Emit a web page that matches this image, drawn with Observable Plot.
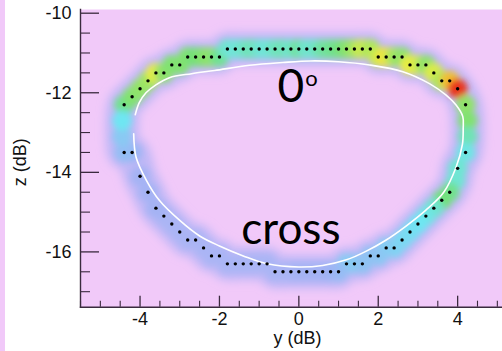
<!DOCTYPE html>
<html><head><meta charset="utf-8">
<script src="https://cdn.jsdelivr.net/npm/d3@7"></script>
<script src="https://cdn.jsdelivr.net/npm/@observablehq/plot@0.6"></script>
<style>
html,body{margin:0;padding:0;background:#fff;}
body{width:502px;height:351px;overflow:hidden;position:relative;}
#strip{position:absolute;left:0;top:0;width:5px;height:351px;background:#f1c9f9;}
#chart{position:absolute;left:0;top:0;}
</style></head><body><div id="strip"></div><div id="chart"></div>
<script>
// measured black dots [y (dB), z (dB)] around the loop
const ringDots = [
[-4.4,-12.3],[-4.2,-12.1],[-4.0,-11.9],[-3.8,-11.7],[-3.6,-11.5],[-3.4,-11.5],[-3.2,-11.3],[-3.0,-11.3],
[-2.8,-11.1],[-2.6,-11.1],[-2.4,-11.1],[-2.2,-11.1],[-2.0,-11.1],
[-1.8,-10.9],[-1.6,-10.9],[-1.4,-10.9],[-1.2,-10.9],[-1.0,-10.9],[-0.8,-10.9],[-0.6,-10.9],[-0.4,-10.9],[-0.2,-10.9],[0,-10.9],[0.2,-10.9],[0.4,-10.9],[0.6,-10.9],[0.8,-10.9],[1.0,-10.9],[1.2,-10.9],[1.4,-10.9],[1.6,-10.9],[1.8,-10.9],
[2.0,-11.1],[2.2,-11.1],[2.4,-11.1],[2.6,-11.1],
[2.8,-11.3],[3.0,-11.3],[3.2,-11.3],
[3.4,-11.5],[3.6,-11.7],[3.8,-11.7],[4.0,-11.9],[4.2,-12.3],
[4.2,-13.5],[4.0,-13.9],[3.8,-14.5],[3.6,-14.7],[3.4,-14.9],[3.2,-15.1],[3.0,-15.3],[2.8,-15.5],[2.6,-15.7],[2.4,-15.9],[2.2,-15.9],[2.0,-16.1],[1.8,-16.1],[1.6,-16.3],[1.4,-16.3],[1.2,-16.3],
[1.0,-16.5],[0.8,-16.5],[0.6,-16.5],[0.4,-16.5],[0.2,-16.5],[0,-16.5],[-0.2,-16.5],[-0.4,-16.5],[-0.6,-16.5],
[-0.8,-16.3],[-1.0,-16.3],[-1.2,-16.3],[-1.4,-16.3],[-1.6,-16.3],[-1.8,-16.3],
[-2.0,-16.1],[-2.2,-16.1],[-2.4,-15.9],[-2.6,-15.7],[-2.8,-15.7],[-3.0,-15.5],[-3.2,-15.3],[-3.4,-15.1],[-3.6,-14.9],[-3.8,-14.5],[-4.0,-14.1],[-4.2,-13.5],[-4.4,-13.5]
];

// heat-map intensity along the ring [y, z, relative density 0..1]
const heat = [
[-4.4,-12.3,0.55],[-4.2,-12.1,0.6],[-4.0,-11.9,0.62],[-3.8,-11.7,0.64],[-3.6,-11.5,0.74],[-3.4,-11.5,0.62],[-3.2,-11.3,0.6],[-3.0,-11.3,0.6],
[-2.8,-11.1,0.6],[-2.6,-11.1,0.58],[-2.4,-11.1,0.6],[-2.2,-11.1,0.62],[-2.0,-11.1,0.55],
[-1.8,-10.9,0.47],[-1.6,-10.9,0.45],[-1.4,-10.9,0.47],[-1.2,-10.9,0.5],[-1.0,-10.9,0.47],[-0.8,-10.9,0.45],[-0.6,-10.9,0.48],[-0.4,-10.9,0.5],[-0.2,-10.9,0.47],[0,-10.9,0.53],[0.2,-10.9,0.47],[0.4,-10.9,0.47],[0.6,-10.9,0.52],[0.8,-10.9,0.54],[1.0,-10.9,0.56],[1.2,-10.9,0.6],[1.4,-10.9,0.64],[1.6,-10.9,0.7],[1.8,-10.9,0.66],
[2.0,-11.1,0.7],[2.2,-11.1,0.76],[2.4,-11.1,0.66],[2.6,-11.1,0.62],
[2.8,-11.3,0.74],[3.0,-11.3,0.72],[3.2,-11.3,0.62],
[3.4,-11.5,0.72],[3.6,-11.7,0.66],[3.8,-11.7,0.8],[4.0,-11.9,0.95],[4.2,-12.3,0.62],
[4.25,-12.7,0.6],[4.25,-13.1,0.5],
[4.2,-13.5,0.44],[4.0,-13.9,0.46],[3.95,-14.2,0.46],[3.8,-14.5,0.55],[3.6,-14.7,0.58],[3.4,-14.9,0.47],[3.2,-15.1,0.44],[3.0,-15.3,0.42],[2.8,-15.5,0.4],[2.6,-15.7,0.38],[2.4,-15.9,0.36],[2.2,-15.9,0.34],[2.0,-16.1,0.32],[1.8,-16.1,0.3],[1.6,-16.3,0.3],[1.4,-16.3,0.3],[1.2,-16.3,0.33],
[1.0,-16.5,0.28],[0.8,-16.5,0.26],[0.6,-16.5,0.24],[0.4,-16.5,0.22],[0.2,-16.5,0.22],[0,-16.5,0.22],[-0.2,-16.5,0.22],[-0.4,-16.5,0.2],[-0.6,-16.5,0.2],
[-0.8,-16.3,0.2],[-1.0,-16.3,0.2],[-1.2,-16.3,0.2],[-1.4,-16.3,0.2],[-1.6,-16.3,0.2],[-1.8,-16.3,0.2],
[-2.0,-16.1,0.2],[-2.2,-16.1,0.2],[-2.4,-15.9,0.2],[-2.6,-15.7,0.2],[-2.8,-15.7,0.2],[-3.0,-15.5,0.2],[-3.2,-15.3,0.2],[-3.4,-15.1,0.2],[-3.6,-14.9,0.22],[-3.8,-14.5,0.22],[-4.0,-14.1,0.22],[-4.2,-13.5,0.25],[-4.4,-13.5,0.28],
[-4.45,-13.1,0.32],[-4.45,-12.7,0.42]
];

// thin white reference curve [y, z]
const whiteCurve = [
[-4.16,-13.03],[-4.1,-13.62],[-3.84,-14.2],[-3.51,-14.71],[-3.0,-15.21],[-2.5,-15.6],[-2.0,-15.85],[-1.4,-16.1],[-0.8,-16.3],[0,-16.38],
[0.6,-16.34],[1.2,-16.2],[1.7,-15.98],[2.2,-15.7],[2.7,-15.35],[3.2,-14.95],[3.65,-14.5],[3.96,-13.87],[4.12,-13.3],[4.14,-12.9],
[4.13,-12.6],[3.96,-12.31],[3.71,-12.06],[3.29,-11.77],[2.62,-11.47],[1.78,-11.3],[1.0,-11.22],[0.3,-11.2],[-0.4,-11.24],[-1.24,-11.31],
[-2.12,-11.44],[-2.7,-11.52],[-3.26,-11.62],[-3.6,-11.8],[-3.85,-12.0],[-4.02,-12.25],[-4.12,-12.55]
];

const xTicks = [-4, -2, 0, 2, 4];
const zTicks = [-10, -12, -14, -16];
const xMinor = d3.range(-5.5, 5.01, 0.5).filter(v => !xTicks.includes(v));
const zMinor = d3.range(-17, -9.99, 0.5).filter(v => !zTicks.includes(v));
const angleLabel = ["0", "o"];
const crossLabel = ["cross"];

const W = 502, H = 351, mL = 80, mT = 9, mB = 44.3, mR = 0;
const fh = H - mT - mB, fw = W - mL - mR;
const axisColor = "#3a2a3e";
const txt = "#111";

const chart = Plot.plot({
  width: W, height: H,
  marginLeft: mL, marginTop: mT, marginBottom: mB, marginRight: mR,
  style: {fontFamily: "'Liberation Sans', Arial, sans-serif", fontSize: "18px", background: "transparent", color: txt, overflow: "visible"},
  x: {domain: [-5.5, 5.13], axis: null},
  y: {domain: [-17.39, -9.907], axis: null},
  color: {type: "linear", domain: [0.1, 0.24, 0.42, 0.58, 0.75, 0.95], range: ["#c4bcf6", "#9fb2f4", "#6ee6f2", "#72e078", "#f2ee3c", "#e8361a"], clamp: true},
  marks: [
    Plot.frame({fill: "#f1c9f9", stroke: null}),
    Plot.line(heat, {x: d => d[0], y: d => d[1], curve: "catmull-rom-closed", stroke: "#b6b4f6", strokeWidth: 33, strokeOpacity: 0.85}),
    Plot.dot(heat, {x: d => d[0], y: d => d[1], r: 10, fill: d => d[2], stroke: null}),
    Plot.line(whiteCurve, {x: d => d[0], y: d => d[1], curve: "catmull-rom", stroke: "white", strokeWidth: 1.6}),
    Plot.dot(ringDots, {x: d => d[0], y: d => d[1], r: 1.7, fill: "black", stroke: null}),
    Plot.text([angleLabel[0]], {text: d => d, x: () => -0.54, y: () => -12.24, textAnchor: "start", lineAnchor: "bottom", fontFamily: "Lato, 'Open Sans', sans-serif", fontSize: 46, fill: "black"}),
    Plot.text([angleLabel[1]], {text: d => d, x: () => 0.16, y: () => -11.84, textAnchor: "start", lineAnchor: "bottom", fontFamily: "Lato, 'Open Sans', sans-serif", fontSize: 22, fill: "black"}),
    Plot.text(crossLabel, {text: d => d, x: () => -1.45, y: () => -15.79, textAnchor: "start", lineAnchor: "bottom", fontFamily: "Lato, 'Open Sans', sans-serif", fontSize: 44, fill: "black"}),
    Plot.tickX(xTicks, {x: d => d, insetTop: fh - 11, stroke: axisColor, strokeWidth: 1.3}),
    Plot.tickX(xMinor, {x: d => d, insetTop: fh - 6, stroke: axisColor, strokeWidth: 1.1}),
    Plot.tickY(zTicks, {y: d => d, insetRight: fw - 19, stroke: axisColor, strokeWidth: 1.3}),
    Plot.tickY(zMinor, {y: d => d, insetRight: fw - 10, stroke: axisColor, strokeWidth: 1.1}),
    Plot.frame({anchor: "left", stroke: axisColor, strokeWidth: 1.4}),
    Plot.frame({anchor: "bottom", stroke: axisColor, strokeWidth: 1.4}),
    Plot.text(xTicks, {x: d => d, text: d => String(d), frameAnchor: "bottom", lineAnchor: "middle", textAnchor: "middle", dy: 12, fontSize: 18, fill: txt}),
    Plot.text(zTicks, {y: d => d, text: d => String(d), frameAnchor: "left", lineAnchor: "middle", textAnchor: "end", dx: -9, fontSize: 18, fill: txt}),
    Plot.text(["y (dB)"], {text: d => d, frameAnchor: "bottom", lineAnchor: "middle", textAnchor: "middle", dx: 6, dy: 31, fontSize: 18, fill: txt}),
    Plot.text(["z (dB)"], {text: d => d, frameAnchor: "left", lineAnchor: "middle", textAnchor: "middle", dx: -60, dy: 4, rotate: -90, fontSize: 18, fill: txt})
  ]
});

const ns = "http://www.w3.org/2000/svg";
const defs = document.createElementNS(ns, "defs");
defs.innerHTML = '<filter id="blurHalo" x="-30%" y="-30%" width="160%" height="160%"><feGaussianBlur stdDeviation="5"/></filter>' +
                 '<filter id="blurHeat" x="-30%" y="-30%" width="160%" height="160%"><feGaussianBlur stdDeviation="3.4"/></filter>';
chart.insertBefore(defs, chart.firstChild);
const lines = chart.querySelectorAll('g[aria-label="line"]');
if (lines[0]) lines[0].setAttribute("filter", "url(#blurHalo)");
const dotsG = chart.querySelectorAll('g[aria-label="dot"]');
if (dotsG[0]) dotsG[0].setAttribute("filter", "url(#blurHeat)");
document.getElementById("chart").appendChild(chart);
</script></body></html>
